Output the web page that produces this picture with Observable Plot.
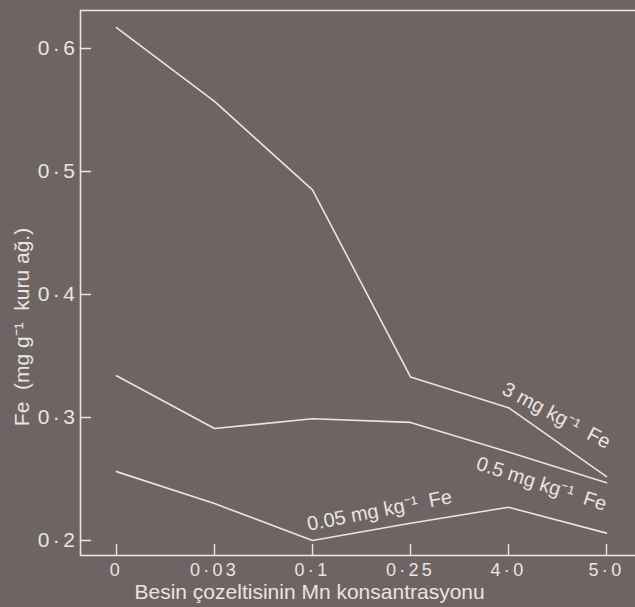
<!DOCTYPE html>
<html><head><meta charset="utf-8">
<script src="https://cdn.jsdelivr.net/npm/d3@7"></script>
<script src="https://cdn.jsdelivr.net/npm/@observablehq/plot@0.6"></script>
<style>
html,body{margin:0;padding:0;background:#6d6463;}
#chart svg{display:block;}
#chart g[aria-label="y-axis tick label"] text{letter-spacing:3.5px;}
#chart g[aria-label="x-axis tick label"] text{letter-spacing:3.3px;}
#chart g[aria-label="line-label"] text{letter-spacing:1px;}
#chart g[aria-label="x-title"] text{letter-spacing:0.55px;}
#chart g[aria-label="y-title"] text{letter-spacing:0.5px;}
</style></head><body><div id="chart"></div>
<script>
// Mn concentration of the nutrient solution (x categories)
const mnLevels = ["0","0·03","0·1","0·25","4·0","5·0"];
// Fe content (mg g-1 dry weight) for three Fe supply levels
const fe3   = [0.617, 0.557, 0.485, 0.333, 0.308, 0.252];
const fe05  = [0.334, 0.291, 0.299, 0.296, 0.272, 0.247];
const fe005 = [0.256, 0.230, 0.200, 0.214, 0.227, 0.206];
const seriesNames = ["3 mg kg⁻¹  Fe", "0.5 mg kg⁻¹  Fe", "0.05 mg kg⁻¹  Fe"];
const yTicks = [0.2, 0.3, 0.4, 0.5, 0.6];
const xTitle = "Besin çozeltisinin Mn konsantrasyonu";
const yTitle = "Fe  (mg g⁻¹  kuru ağ.)";

const ink = "#ebe5e1";
const seriesValues = [fe3, fe05, fe005];
const rows = seriesValues.flatMap((vals, s) => vals.map((v, i) => ({series: seriesNames[s], x: mnLevels[i], y: v})));
const fmt = d => d.toFixed(1).replace(".", "·");
const stick = {draw(context, l) { context.moveTo(0, 0); context.lineTo(0, -l); }};

const lineLabel = (s, i, vals, dx, dy, rotate) =>
  Plot.text([{text: seriesNames[s], x: mnLevels[i], y: vals[i]}],
    {x: "x", y: "y", text: "text", dx, dy, rotate, textAnchor: "middle", fill: ink, fontSize: 20, ariaLabel: "line-label"});

const chart = Plot.plot({
  width: 635, height: 607,
  marginLeft: 80, marginRight: -3, marginTop: 10, marginBottom: 52,
  style: {background: "#6d6463", color: ink, fontFamily: "'Liberation Sans', Arial, sans-serif"},
  x: {type: "point", domain: mnLevels, range: [115, 607], padding: 0},
  y: {domain: [0.1878, 0.6309]},
  marks: [
    Plot.frame({stroke: ink, strokeWidth: 1.6}),
    Plot.axisY(yTicks, {anchor: "left", tickSize: 0, tickPadding: 2, tickFormat: fmt, fontSize: 21, label: null}),
    Plot.vector(yTicks, {y: d => d, frameAnchor: "left", rotate: 90, length: 10, anchor: "start", shape: stick, stroke: ink, strokeWidth: 1.4}),
    Plot.axisX({anchor: "bottom", tickSize: 0, tickPadding: 8, fontSize: 18, label: null}),
    Plot.vector(mnLevels, {x: d => d, frameAnchor: "bottom", rotate: 0, length: 11, anchor: "start", shape: stick, stroke: ink, strokeWidth: 1.4}),
    Plot.line(rows, {x: "x", y: "y", z: "series", stroke: ink, strokeWidth: 1.6}),
    lineLabel(0, 4, fe3, 48, 8, 28),
    lineLabel(1, 4, fe05, 33, 32, 18),
    lineLabel(2, 2, fe005, 67, -30, -11),
    Plot.text([xTitle], {frameAnchor: "bottom-left", text: d => d, textAnchor: "start", dx: 54, dy: 43, fill: ink, fontSize: 21, ariaLabel: "x-title"}),
    Plot.text([yTitle], {frameAnchor: "left", text: d => d, textAnchor: "middle", rotate: -90, dx: -58, dy: 44, fill: ink, fontSize: 21, ariaLabel: "y-title"})
  ]
});
document.getElementById("chart").append(chart);
</script></body></html>
